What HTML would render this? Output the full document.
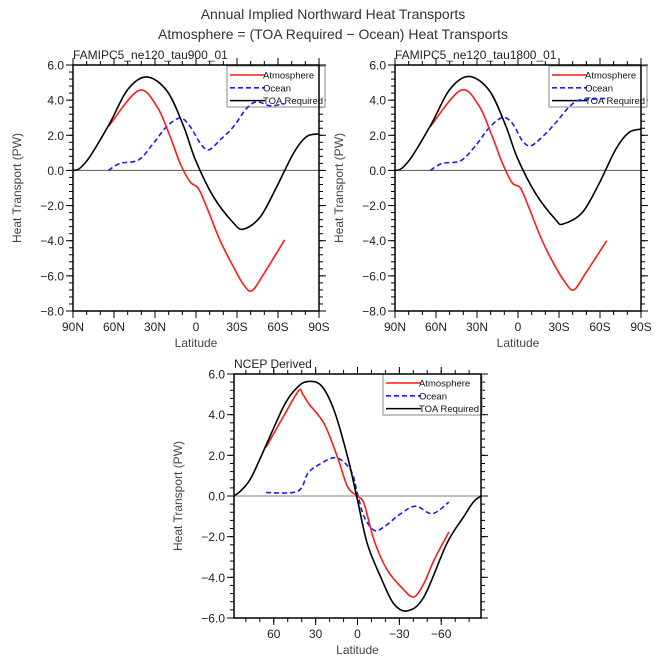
<!DOCTYPE html>
<html><head><meta charset="utf-8"><style>
body{margin:0;background:#fff;}
svg{display:block;font-family:"Liberation Sans",sans-serif;}
</style></head><body>
<svg id="c" width="666" height="666" viewBox="0 0 666 666">
<text x="333" y="19" font-size="14" text-anchor="middle" fill="#333">Annual Implied Northward Heat Transports</text>
<text x="333" y="39" font-size="14" text-anchor="middle" fill="#333">Atmosphere = (TOA Required − Ocean) Heat Transports</text>
</svg>
<script>
// Panel 1: FAMIPC5_ne120_tau900_01
const p1TOAlat=[90,85,77.5,63,50,36,21,9,0.4,-12.8,-27.5,-34.8,-47,-59,-71.5,-81,-90];
const p1TOA=[0,0.12,0.8,2.7,4.6,5.32,4.5,2.5,0.6,-1.5,-3.0,-3.34,-2.65,-0.94,1.0,1.93,2.08];
const p1Atmlat=[64.1,42.1,28.7,18.9,11.6,4.3,-1.8,-7.9,-17.7,-27.5,-34.8,-40.9,-49.5,-64.9];
const p1Atm=[2.5,4.54,3.65,1.93,0.4,-0.65,-1.03,-2.1,-4.0,-5.5,-6.5,-6.85,-5.9,-3.95];
const p1Ocnlat=[64.1,55.6,42,31.1,21.4,11.6,4.3,-3.1,-9.2,-17.7,-27.5,-37.2,-44.6,-54.4,-64.9];
const p1Ocn=[0,0.4,0.6,1.55,2.5,2.98,2.5,1.55,1.17,1.74,2.5,3.55,3.9,3.68,3.8];
// Panel 2: FAMIPC5_ne120_tau1800_01
const p2TOAlat=[90,85,77.5,63,50,36,21,9,0.4,-12.8,-27.5,-33,-47,-59,-71.5,-81,-90];
const p2TOA=[0,0.12,0.8,2.7,4.6,5.35,4.55,2.55,0.7,-1.3,-2.8,-3.05,-2.4,-0.8,1.2,2.15,2.35];
const p2Atmlat=[64.1,42.1,28.7,18.9,11.6,4.3,-1.8,-7.9,-17.7,-27.5,-34.8,-40.9,-49.5,-64.9];
const p2Atm=[2.5,4.55,3.7,1.95,0.45,-0.7,-1.0,-2.1,-4.0,-5.5,-6.4,-6.8,-5.85,-4.0];
const p2Ocnlat=[64.1,55.6,42,31.1,21.4,11.6,4.3,-3.1,-9.2,-17.7,-27.5,-37.2,-44.6,-54.4,-64.9];
const p2Ocn=[0,0.4,0.55,1.4,2.4,3.0,2.7,1.7,1.4,1.9,2.7,3.6,4.0,4.05,4.1];
// Panel 3: NCEP Derived
const p3TOAlat=[88.5,83,76,64,52,43,35.7,26,16.7,7,0,-7,-16.7,-26,-35.7,-47.6,-64,-76,-83,-88.5];
const p3TOA=[0,0.3,0.93,2.73,4.53,5.35,5.63,5.43,4.2,1.9,-0.2,-2.34,-4.0,-5.3,-5.65,-4.96,-2.34,-1.03,-0.3,0];
const p3Atmlat=[65.5,52,42,39.2,34.5,23.8,14.3,7,0,-4.8,-12,-21.4,-33,-40.5,-47.6,-54.8,-65.5];
const p3Atm=[2.4,4.04,5.19,5.0,4.5,3.55,1.9,0.44,0,-0.4,-2.2,-3.65,-4.6,-4.96,-4.3,-3.16,-1.77];
const p3Ocnlat=[65.5,43,35.7,28.6,15.5,4.8,0,-4.8,-12,-19,-31,-41.7,-53.6,-65.5];
const p3Ocn=[0.17,0.23,1.1,1.5,1.88,1.26,0.1,-1.03,-1.69,-1.52,-0.87,-0.5,-0.87,-0.3];
const p12YTicks=[6,4,2,0,-2,-4,-6,-8];
const p12XTicks=[90,60,30,0,-30,-60,-90];
const p12XLabels=["90N","60N","30N","0","30S","60S","90S"];
const p3YTicks=[6,4,2,0,-2,-4,-6];
const p3XTicks=[60,30,0,-30,-60];
const p3XLabels=["60","30","0","\u221230","\u221260"];

const svg=document.getElementById('c');
const NS='http://www.w3.org/2000/svg';
function mk(tag,attrs,parent){const e=document.createElementNS(NS,tag);for(const k in attrs)e.setAttribute(k,attrs[k]);(parent||svg).appendChild(e);return e;}
function fmt(v){return (v<0?'\u2212':'')+Math.abs(v).toFixed(1);}
function smooth(pts){let d='M'+pts[0][0]+','+pts[0][1];for(let i=0;i<pts.length-1;i++){const p0=pts[Math.max(0,i-1)],p1=pts[i],p2=pts[i+1],p3=pts[Math.min(pts.length-1,i+2)];const c1=[p1[0]+(p2[0]-p0[0])/6,p1[1]+(p2[1]-p0[1])/6],c2=[p2[0]-(p3[0]-p1[0])/6,p2[1]-(p3[1]-p1[1])/6];d+=' C'+c1[0].toFixed(2)+','+c1[1].toFixed(2)+' '+c2[0].toFixed(2)+','+c2[1].toFixed(2)+' '+p2[0].toFixed(2)+','+p2[1].toFixed(2);}return d;}

function panel(cfg){
  const g=mk('g',{});
  
  
  const {x0,x1,y0,y1,lat0,lat1,v0,v1}=cfg;
  const X=l=>x0+(lat0-l)/(lat0-lat1)*(x1-x0);
  const Y=v=>y0+(v0-v)/(v0-v1)*(y1-y0);
  const z=mk('line',{x1:x0,x2:x1,y1:Y(0),y2:Y(0),stroke:cfg.zeroColor,'stroke-width':cfg.zeroW},g);
  
  
  for(let v=v0;v>=v1-1e-6;v-=cfg.yMinor){
    mk('line',{x1:x0-4,x2:x0,y1:Y(v),y2:Y(v),stroke:'#000','stroke-width':1},g);
    mk('line',{x1:x1,x2:x1+4,y1:Y(v),y2:Y(v),stroke:'#000','stroke-width':1},g);
  }
  cfg.yTicks.forEach(v=>{
    mk('line',{x1:x0-7,x2:x0,y1:Y(v),y2:Y(v),stroke:'#000','stroke-width':1},g);
    mk('line',{x1:x1,x2:x1+7,y1:Y(v),y2:Y(v),stroke:'#000','stroke-width':1},g);
    const t=mk('text',{x:x0-9,y:Y(v)+4.5,'font-size':12,'text-anchor':'end',fill:'#222'},g);
    t.textContent=fmt(v);
    
    
  });
  for(let l=Math.floor(lat0/10)*10;l>=lat1;l-=10){
    mk('line',{x1:X(l),x2:X(l),y1:y1,y2:y1+4,stroke:'#000','stroke-width':1},g);
    mk('line',{x1:X(l),x2:X(l),y1:y0-4,y2:y0,stroke:'#000','stroke-width':1},g);
  }
  cfg.xTicks.forEach((l,i)=>{
    mk('line',{x1:X(l),x2:X(l),y1:y1,y2:y1+7,stroke:'#000','stroke-width':1},g);
    mk('line',{x1:X(l),x2:X(l),y1:y0-7,y2:y0,stroke:'#000','stroke-width':1},g);
    const t=mk('text',{x:X(l),y:y1+20,'font-size':12,'text-anchor':'middle',fill:'#222'},g);
    t.textContent=cfg.xLabels[i];
    
    
  });
  // legend (drawn under the curves)
  const L=cfg.leg;
  const lg=mk('g',{},g);
  
  
  mk('rect',{x:L.x,y:L.y,width:L.w,height:L.h,fill:'#fff',stroke:'#888','stroke-width':1},lg);
  const items=[['Atmosphere','#ff1a1a',''],['Ocean','#1a1aff','5,3'],['TOA Required','#000','']];
  items.forEach((it,i)=>{
    const yy=L.y+9+i*L.h/3.2;
    mk('line',{x1:L.x+3,x2:L.x+38,y1:yy,y2:yy,stroke:it[1],'stroke-width':1.6,'stroke-dasharray':it[2]||'none'},lg);
    const t=mk('text',{x:L.x+36,y:yy+3.5,'font-size':9.5,fill:'#111'},lg);
    t.textContent=it[0];
    
    
  });
  const series=[[cfg.ocnLat,cfg.ocn,'#1a1aff','5,3','ocean-line'],[cfg.atmLat,cfg.atm,'#ff1a1a','','atmosphere-line'],[cfg.toaLat,cfg.toa,'#000','','toa-required-line']];
  series.forEach(s=>{
    const p=mk('path',{d:smooth(s[0].map((l,i)=>[X(l),Y(s[1][i])])),fill:'none',stroke:s[2],'stroke-width':1.6,'stroke-dasharray':s[3]||'none'},g);
    
    
  });
  const b=mk('rect',{x:x0,y:y0,width:x1-x0,height:y1-y0,fill:'none',stroke:'#000','stroke-width':1.5},g);
  
  
  const st=mk('text',{x:x0,y:y0-6,'font-size':12,fill:'#222'},g);
  st.textContent=cfg.subtitle;
  
  
  const xt=mk('text',{x:(x0+x1)/2,y:y1+36,'font-size':12,'text-anchor':'middle',fill:'#444'},g);
  xt.textContent='Latitude';
  
  
  const yt=mk('text',{x:0,y:0,'font-size':12,'text-anchor':'middle',fill:'#444',transform:'translate('+(x0-52)+','+((y0+y1)/2)+') rotate(-90)'},g);
  yt.textContent='Heat Transport (PW)';
  
  
}
panel({name:'panel-tau900',x0:73,x1:319,y0:65,y1:311,lat0:90,lat1:-90,v0:6,v1:-8,yMinor:0.4,yTicks:p12YTicks,xTicks:p12XTicks,xLabels:p12XLabels,
 toaLat:p1TOAlat,toa:p1TOA,atmLat:p1Atmlat,atm:p1Atm,ocnLat:p1Ocnlat,ocn:p1Ocn,zeroColor:'#555',zeroW:1,
 leg:{x:227,y:66,w:98,h:41},subtitle:'FAMIPC5_ne120_tau900_01'});
panel({name:'panel-tau1800',x0:395,x1:641,y0:65,y1:311,lat0:90,lat1:-90,v0:6,v1:-8,yMinor:0.4,yTicks:p12YTicks,xTicks:p12XTicks,xLabels:p12XLabels,
 toaLat:p2TOAlat,toa:p2TOA,atmLat:p2Atmlat,atm:p2Atm,ocnLat:p2Ocnlat,ocn:p2Ocn,zeroColor:'#555',zeroW:1,
 leg:{x:549,y:66,w:98,h:41},subtitle:'FAMIPC5_ne120_tau1800_01'});
panel({name:'panel-ncep',x0:234,x1:481,y0:374,y1:618,lat0:88.5,lat1:-88.5,v0:6,v1:-6,yMinor:0.4,yTicks:p3YTicks,xTicks:p3XTicks,xLabels:p3XLabels,
 toaLat:p3TOAlat,toa:p3TOA,atmLat:p3Atmlat,atm:p3Atm,ocnLat:p3Ocnlat,ocn:p3Ocn,zeroColor:'#aaa',zeroW:1.5,
 leg:{x:383,y:374,w:99,h:41},subtitle:'NCEP Derived'});
</script>
</body></html>
